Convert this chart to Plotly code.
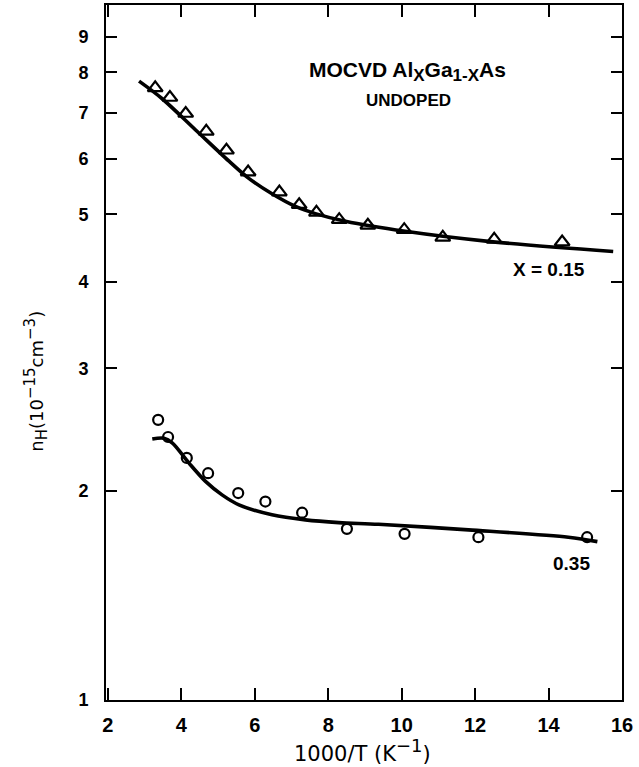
import plotly.graph_objects as go

# x = 0.15 data (triangles)
tri_x = [3.29, 3.69, 4.12, 4.68, 5.23, 5.82, 6.67, 7.21, 7.68, 8.30, 9.08, 10.07, 11.12, 12.52, 14.37]
tri_y = [7.60, 7.36, 6.98, 6.58, 6.18, 5.75, 5.38, 5.16, 5.03, 4.91, 4.82, 4.75, 4.63, 4.60, 4.56]

# x = 0.15 fitted curve
fit15_x = [2.85, 3.48, 4.39, 5.30, 5.82, 6.47, 7.11, 7.65, 8.47, 10.10, 12.36, 15.76]
fit15_y = [7.77, 7.33, 6.61, 5.96, 5.64, 5.35, 5.13, 5.01, 4.885, 4.725, 4.57, 4.42]

# x = 0.35 data (circles)
cir_x = [3.37, 3.64, 4.15, 4.73, 5.55, 6.29, 7.29, 8.51, 10.08, 12.09, 15.05]
cir_y = [2.53, 2.39, 2.23, 2.12, 1.985, 1.93, 1.86, 1.763, 1.734, 1.715, 1.715]

# x = 0.35 fitted curve
fit35_x = [3.21, 3.53, 3.76, 4.21, 4.66, 5.11, 5.57, 6.47, 7.38, 8.29, 9.37, 11.82, 14.54, 15.33]
fit35_y = [2.374, 2.38, 2.343, 2.192, 2.063, 1.973, 1.909, 1.847, 1.816, 1.800, 1.790, 1.757, 1.715, 1.690]

x_ticks = [2, 4, 6, 8, 10, 12, 14, 16]
y_ticks = [1, 2, 3, 4, 5, 6, 7, 8, 9]

FONT = "Liberation Sans"
TFONT = "DejaVu Sans"

fig = go.Figure()
fig.add_trace(go.Scatter(x=fit15_x, y=fit15_y, mode="lines",
                         line=dict(color="black", width=3.6, shape="spline", smoothing=0.9),
                         showlegend=False, hoverinfo="skip"))
fig.add_trace(go.Scatter(x=fit35_x, y=fit35_y, mode="lines",
                         line=dict(color="black", width=3.6, shape="spline", smoothing=0.9),
                         showlegend=False, hoverinfo="skip"))
fig.add_trace(go.Scatter(x=tri_x, y=tri_y, mode="markers",
                         marker=dict(symbol="triangle-up-open", size=13, color="black",
                                     line=dict(width=2.2, color="black")),
                         showlegend=False))
fig.add_trace(go.Scatter(x=cir_x, y=cir_y, mode="markers",
                         marker=dict(symbol="circle-open", size=10, color="black",
                                     line=dict(width=2.2, color="black")),
                         showlegend=False))

sub = "<span style='font-size:17px'>%s</span>"
fig.add_annotation(x=10.15, y=0.904, xref="x", yref="y",
                   text="MOCVD Al<sub>" + sub % "X" + "</sub>Ga<sub>" + sub % "1-X" + "</sub>As",
                   showarrow=False,
                   font=dict(family=FONT, size=21, color="black", weight="bold"))
fig.add_annotation(x=10.2, y=0.8626, xref="x", yref="y", text="UNDOPED", showarrow=False,
                   font=dict(family=FONT, size=17, color="black", weight="bold"))
fig.add_annotation(x=14.0, y=0.619, xref="x", yref="y", text="X = 0.15", showarrow=False,
                   font=dict(family=FONT, size=19, color="black", weight="bold"))
fig.add_annotation(x=14.63, y=0.197, xref="x", yref="y", text="0.35", showarrow=False,
                   font=dict(family=FONT, size=19, color="black", weight="bold"))

# axis titles
sup = "<span style='font-size:18px'>%s</span>"
fig.add_annotation(xref="paper", yref="paper", x=0.498, y=0, yanchor="middle",
                   yshift=-50, showarrow=False,
                   text="1000/T (K<sup>" + sup % "\u22121" + "</sup>)",
                   font=dict(family=TFONT, size=21, color="black"))
ss = "<span style='font-size:15px'>%s</span>"
fig.add_annotation(xref="paper", yref="paper", x=0, y=0.458, xanchor="center",
                   xshift=-70, showarrow=False, textangle=-90,
                   text="n<sub>" + ss % "H" + "</sub>(10<sup>" + ss % "\u221215" + "</sup>cm<sup>"
                        + ss % "\u22123" + "</sup>)",
                   font=dict(family=TFONT, size=18, color="black"))

fig.update_layout(
    width=639, height=767,
    margin=dict(l=106, r=17, t=5, b=67, autoexpand=False),
    paper_bgcolor="white", plot_bgcolor="white",
    font=dict(family=FONT, color="black"),
)
fig.update_xaxes(
    range=[1.95, 16.0], tickvals=x_ticks, ticktext=[str(v) for v in x_ticks],
    ticks="inside", ticklen=12, tickwidth=2, tickcolor="black",
    showline=True, linecolor="black", linewidth=2, mirror="ticks",
    showgrid=False, zeroline=False, automargin=False,
    tickfont=dict(family=FONT, size=20, color="black", weight="bold"),
    ticklabelstandoff=6,
)
fig.update_yaxes(
    type="log", range=[0, 1.0], tickvals=y_ticks, ticktext=[str(v) for v in y_ticks],
    ticks="inside", ticklen=11, tickwidth=2, tickcolor="black",
    showline=True, linecolor="black", linewidth=2, mirror="ticks",
    showgrid=False, zeroline=False, automargin=False,
    tickfont=dict(family=FONT, size=18, color="black", weight="bold"),
    ticklabelstandoff=12,
)

fig.write_html("out.html", config={"displayModeBar": False},
               post_script="document.body.style.margin='0';")
